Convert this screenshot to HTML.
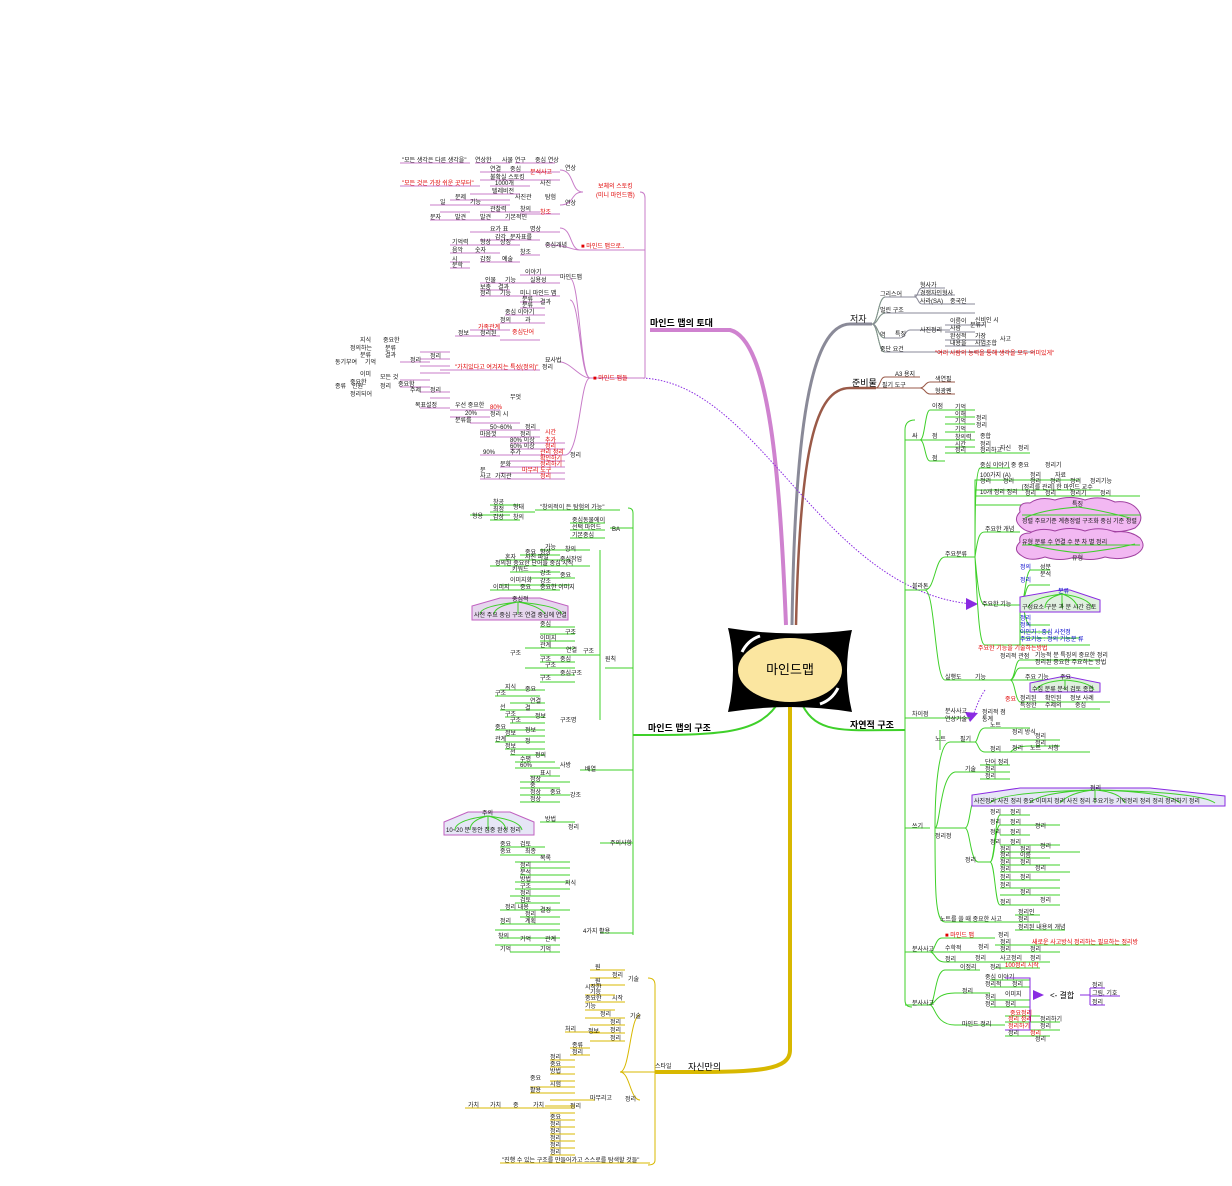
<!DOCTYPE html>
<html><head><meta charset="utf-8">
<style>
html,body{margin:0;padding:0;background:#fff;}
svg{display:block;font-family:"Liberation Sans","Noto Sans CJK KR",sans-serif;}
.t{font-size:6px;fill:#111;}
.r{font-size:6px;fill:#e00000;}
.b{font-size:6px;fill:#0000cc;}
.m{font-size:9px;fill:#000;font-weight:bold;}
.g path{fill:none;stroke:#3fd02a;stroke-width:1;}
.p path{fill:none;stroke:#c87cc8;stroke-width:1;}
.y path{fill:none;stroke:#d8b800;stroke-width:1;}
</style></head><body>
<svg width="1232" height="1186" viewBox="0 0 1232 1186" xmlns="http://www.w3.org/2000/svg">
<!-- main branches -->
<path d="M786 625 C780 480 770 340 730 330 L650 330" stroke="#cf82cf" stroke-width="4" fill="none"/>
<path d="M792 625 C795 430 810 325 850 324 L872 324" stroke="#8a8a98" stroke-width="3" fill="none"/>
<path d="M796 625 C800 450 815 388 850 388 L876 388" stroke="#9a5a48" stroke-width="2.5" fill="none"/>
<path d="M800 700 C815 735 840 730 905 730" stroke="#3fd02a" stroke-width="2" fill="none"/>
<path d="M780 700 C760 735 720 735 633 735" stroke="#3fd02a" stroke-width="2" fill="none"/>
<path d="M790 700 L790 1050 C790 1070 760 1072 690 1072 L655 1072" stroke="#d8b800" stroke-width="4" fill="none"/>
<path d="M640 378 C760 380 820 590 972 604" stroke="#8a2be2" stroke-width="1" stroke-dasharray="1.5 1.5" fill="none"/>
<path d="M966 598 L978 604 L966 610 Z" fill="#8a2be2"/>
<path d="M985 690 C975 705 975 715 970 720" stroke="#8a2be2" stroke-width="1" stroke-dasharray="1.5 1.5" fill="none"/>
<path d="M965 712 L970 722 L978 713 Z" fill="#8a2be2"/>
<!-- central node -->
<path d="M728 628 Q790 638 852 630 Q842 670 852 712 Q790 702 728 712 Q738 670 728 628 Z" fill="#000"/>
<ellipse cx="790" cy="670" rx="52" ry="32" fill="#fbe6a0"/>
<path d="M742 652 Q748 640 760 636" stroke="#fff" stroke-width="3" fill="none"/>
<path d="M838 688 Q832 700 820 704" stroke="#fff" stroke-width="3" fill="none"/>
<text x="790" y="674" text-anchor="middle" font-size="13" fill="#000">마인드맵</text>
<text class="m" x="650" y="326">마인드 맵의 토대</text>
<text class="t" x="850" y="322" style="font-size:9px">저자</text>
<text class="m" x="852" y="386" style="font-weight:normal">준비물</text>
<text class="m" x="850" y="728">자연적 구조</text>
<text class="m" x="648" y="731">마인드 맵의 구조</text>
<text x="688" y="1070" font-size="9" fill="#000">자신만의</text>

<!-- PINK cluster -->
<g class="p">
<path d="M645 378 V198 Q645 192 640 192 M645 250 H580 M645 378 H590 M583 192 C570 192 575 170 560 170 M583 192 C570 192 575 205 560 205 M580 250 C570 250 572 228 560 228 M580 250 C570 250 570 245 545 245 M590 378 C580 378 580 280 570 278 M590 378 C580 378 580 300 570 300 M590 378 C580 378 570 362 560 362 M590 378 C580 378 580 455 565 455"/>
<path d="M400 163 H470 M475 163 H510 M515 163 H555 M480 172 H560 M480 180 H560 M400 186 H480 M490 186 H530 M470 194 H520 M450 200 H510 M430 205 H470 M470 205 H510 M440 212 H470 M480 212 H540 M470 220 H510 M450 220 H470 M520 214 H560 M430 220 H450"/>
<path d="M470 232 H520 M520 232 H560 M480 240 H540 M450 245 H480 M480 245 H520 M450 253 H470 M470 253 H500 M450 262 H470 M480 262 H500 M520 255 H540 M500 262 H520 M450 268 H470"/>
<path d="M520 275 H560 M480 283 H520 M520 283 H560 M480 290 H510 M480 296 H510 M510 296 H560 M520 302 H545 M520 308 H545 M505 315 H545 M500 323 H545 M470 330 H510 M455 336 H500 M500 340 H540 M420 352 H450 M420 359 H450 M420 366 H450 M420 373 H450 M440 370 H540 M400 362 H430 M400 380 H430 M400 387 H430 M420 392 H450 M430 398 H450 M420 408 H450 M450 410 H500 M450 417 H490 M470 423 H520"/>
<path d="M480 430 H540 M480 437 H540 M510 443 H565 M510 449 H565 M480 455 H565 M510 461 H565 M500 467 H565 M500 473 H565 M480 479 H565"/>
</g>
<text class="r" x="598" y="188">보체의 스토킹</text>
<text class="r" x="596" y="197">(미니 마인드맵)</text>
<text class="r" x="581" y="248">■ 마인드 맵으로..</text>
<text class="r" x="593" y="380">■ 마인드 맵들</text>
<text class="t" x="402" y="162">"모든 생각은 다른 생각을"</text><text class="t" x="475" y="162">연상한</text><text class="t" x="502" y="162">사물 연구</text><text class="t" x="535" y="162">중심 연상</text><text class="t" x="565" y="170">연상</text>
<text class="t" x="490" y="171">연결</text><text class="t" x="510" y="171">중심</text><text class="r" x="530" y="174">분석사고</text><text class="t" x="490" y="179">불확실 스토킹</text>
<text class="r" x="402" y="185">"모든 것은 가장 쉬운 곳부터"</text><text class="t" x="495" y="185">1000개</text><text class="t" x="540" y="185">사진</text>
<text class="t" x="492" y="193">텔레비전</text><text class="t" x="455" y="199">문제</text><text class="t" x="470" y="204">기능</text><text class="t" x="515" y="199">사진관</text><text class="t" x="545" y="199">탐험</text><text class="t" x="565" y="205">연상</text><text class="t" x="440" y="204">일</text>
<text class="t" x="490" y="211">관찰력</text><text class="t" x="520" y="211">창의</text><text class="r" x="540" y="214">창조</text><text class="t" x="430" y="219">문자</text><text class="t" x="455" y="219">발견</text><text class="t" x="480" y="219">발견</text><text class="t" x="505" y="219">기본적인</text>
<text class="t" x="490" y="231">요가 표</text><text class="t" x="530" y="231">명상</text><text class="t" x="495" y="239">감각</text><text class="t" x="510" y="239">문자표를</text><text class="t" x="545" y="247">중심개념</text>
<text class="t" x="452" y="244">기억력</text><text class="t" x="480" y="244">형상</text><text class="t" x="500" y="244">상징</text><text class="t" x="452" y="252">음악</text><text class="t" x="475" y="252">숫자</text><text class="t" x="452" y="261">시</text><text class="t" x="480" y="261">감정</text><text class="t" x="520" y="254">창조</text><text class="t" x="502" y="261">예술</text><text class="t" x="452" y="267">문학</text>
<text class="t" x="525" y="274">이야기</text><text class="t" x="560" y="279">마인드맵</text><text class="t" x="485" y="282">인물</text><text class="t" x="505" y="282">기능</text><text class="t" x="530" y="282">실용성</text>
<text class="t" x="480" y="289">보충</text><text class="t" x="498" y="289">결과</text><text class="t" x="480" y="295">정리</text><text class="t" x="500" y="295">기능</text><text class="t" x="520" y="295">미니 마인드 맵</text>
<text class="t" x="522" y="301">분류</text><text class="t" x="540" y="304">결과</text><text class="t" x="522" y="307">분류</text><text class="t" x="505" y="314">중심 이야기</text><text class="t" x="500" y="322">정의</text><text class="t" x="525" y="322">과</text>
<text class="r" x="478" y="329">가족관계</text><text class="r" x="512" y="334">중심단어</text><text class="t" x="458" y="335">정보</text><text class="t" x="480" y="335">정리된</text>
<text class="t" x="545" y="362">묘사법</text><text class="t" x="360" y="342">지식</text><text class="t" x="383" y="342">중요한</text><text class="t" x="350" y="350">정의하는</text><text class="t" x="385" y="350">분류</text><text class="t" x="360" y="357">분류</text><text class="t" x="385" y="357">결과</text><text class="t" x="335" y="364">동기부여</text><text class="t" x="365" y="364">기억</text><text class="t" x="410" y="362">정리</text><text class="t" x="430" y="358">정리</text>
<text class="r" x="455" y="369">"가치있다고 여겨지는 특성(정의)"</text><text class="t" x="542" y="369">정리</text>
<text class="t" x="360" y="376">이미</text><text class="t" x="350" y="384">중요한</text><text class="t" x="380" y="379">모든 것</text><text class="t" x="335" y="388">종류</text><text class="t" x="352" y="388">인원</text><text class="t" x="380" y="388">정리</text><text class="t" x="398" y="386">중요함</text><text class="t" x="410" y="392">주제</text><text class="t" x="350" y="396">정리되어</text><text class="t" x="430" y="392">정리</text>
<text class="t" x="415" y="407">목표설정</text><text class="t" x="455" y="407">우선 중요한</text><text class="r" x="490" y="409">80%</text><text class="t" x="465" y="415">20%</text><text class="t" x="490" y="416">정리 시</text><text class="t" x="455" y="422">분류를</text><text class="t" x="510" y="399">무엇</text>
<text class="t" x="490" y="429">50~60%</text><text class="t" x="525" y="429">정리</text><text class="t" x="480" y="436">마음껏</text><text class="t" x="520" y="436">정리</text><text class="r" x="545" y="434">시간</text><text class="t" x="510" y="442">80% 이상</text><text class="r" x="545" y="442">추가</text><text class="t" x="510" y="448">60% 이상</text><text class="r" x="545" y="448">정리</text><text class="t" x="483" y="454">90%</text><text class="t" x="510" y="454">추가</text><text class="r" x="540" y="454">관리 정리</text><text class="r" x="540" y="460">확인하기</text><text class="t" x="570" y="457">정리</text><text class="r" x="540" y="466">정리하기</text><text class="t" x="500" y="466">문화</text><text class="r" x="522" y="472">마무리 도구</text><text class="t" x="480" y="472">문</text><text class="t" x="495" y="478">가치관</text><text class="r" x="540" y="478">정리</text><text class="t" x="480" y="478">사고</text>

<!-- LEFT GREEN cluster -->
<g class="g">
<path d="M633 735 V513 Q633 508 628 508 M633 735 V935 M633 528 H610 M633 668 H605 M633 770 H580 M633 843 H600 M633 933 H600"/>
<path d="M470 515 H510 M490 505 H520 M490 512 H515 M490 520 H520 M510 512 H535 M535 510 H620 M570 523 H605 M570 530 H605 M570 538 H605 M540 550 H590 M520 555 H560 M500 560 H570 M490 566 H590 M510 572 H560 M530 578 H575 M500 585 H570 M490 590 H560 M600 550 V720 M600 655 H570 M540 627 H575 M540 634 H575 M540 641 H575 M525 648 H575 M540 655 H575 M540 662 H575 M525 668 H575 M540 675 H575 M540 682 H575 M500 690 H545 M495 696 H540 M510 703 H545 M500 710 H545 M505 717 H545 M510 723 H545 M495 730 H545 M505 736 H545 M495 742 H545 M505 749 H545 M510 755 H545 M515 762 H555 M515 768 H560 M530 776 H560 M520 782 H570 M520 788 H560 M520 795 H570 M520 802 H560 M540 822 H575 M500 847 H545 M500 855 H545 M515 862 H570 M520 868 H570 M520 875 H570 M515 882 H570 M515 889 H570 M510 896 H560 M515 903 H560 M500 910 H570 M520 917 H560 M500 924 H560 M495 930 H560 M500 938 H560 M495 945 H560 M510 952 H560"/>
</g>
<text class="t" x="493" y="504">창공</text><text class="t" x="493" y="511">최정</text><text class="t" x="493" y="519">감상</text><text class="t" x="513" y="509">형태</text><text class="t" x="513" y="519">창의</text><text class="t" x="472" y="518">형용</text><text class="t" x="540" y="509">"창의적이 든 탐험의 가능"</text>
<text class="t" x="572" y="522">중심동물에이</text><text class="t" x="572" y="529">선택 마인드</text><text class="t" x="572" y="537">기본중심</text><text class="t" x="612" y="531">BA</text>
<text class="t" x="545" y="549">가능</text><text class="t" x="525" y="554">중요</text><text class="t" x="540" y="554">향상</text><text class="t" x="565" y="551">창의</text><text class="t" x="505" y="559">혼자</text><text class="t" x="525" y="559">사진 파일</text><text class="t" x="560" y="561">중심작업</text><text class="t" x="495" y="565">정의된 중요한 단어들 중심 시작</text><text class="t" x="512" y="571">키워드</text><text class="t" x="540" y="575">강조</text><text class="t" x="560" y="577">중요</text><text class="t" x="510" y="582">이미지화</text><text class="t" x="540" y="583">강조</text><text class="t" x="493" y="589">이미지</text><text class="t" x="520" y="589">중요</text><text class="t" x="540" y="589">중요한 이미지</text>
<path d="M472 618 V606 L500 598 H540 L568 606 V620 H472 Z" fill="#e6d6ee" stroke="#c060c0" stroke-width="1"/>
<path d="M518 602 Q480 606 480 614 M518 602 Q495 606 494 614 M518 602 V614 M518 602 Q540 606 545 614 M518 602 Q560 606 562 614" fill="none" stroke="#3fd02a" stroke-width="1"/>
<text class="t" x="512" y="601">중심적</text><text class="t" x="474" y="617">사전 주요 중심 구조 연결 중심에 연결</text>
<text class="t" x="540" y="626">중심</text><text class="t" x="565" y="634">구조</text><text class="t" x="540" y="640">이미지</text><text class="t" x="540" y="647">관계</text><text class="t" x="566" y="652">연결</text><text class="t" x="510" y="655">구조</text><text class="t" x="540" y="661">구조</text><text class="t" x="560" y="661">중심</text><text class="t" x="545" y="667">구조</text><text class="t" x="560" y="675">중심구조</text><text class="t" x="540" y="680">구조</text><text class="t" x="583" y="653">구조</text><text class="t" x="605" y="661">원칙</text>
<text class="t" x="505" y="689">지식</text><text class="t" x="525" y="691">중요</text><text class="t" x="495" y="695">구조</text><text class="t" x="530" y="703">연결</text><text class="t" x="500" y="709">선</text><text class="t" x="525" y="710">결</text><text class="t" x="505" y="716">구조</text><text class="t" x="535" y="718">정보</text><text class="t" x="510" y="722">구조</text><text class="t" x="560" y="722">구조명</text><text class="t" x="495" y="729">중요</text><text class="t" x="525" y="732">정보</text><text class="t" x="505" y="735">정보</text><text class="t" x="495" y="741">관계</text><text class="t" x="525" y="743">정</text><text class="t" x="505" y="748">정보</text><text class="t" x="510" y="754">선</text><text class="t" x="535" y="757">정의</text>
<text class="t" x="520" y="761">수평</text><text class="t" x="560" y="767">사방</text><text class="t" x="520" y="767">60%</text><text class="t" x="585" y="771">배열</text><text class="t" x="540" y="775">표시</text><text class="t" x="530" y="781">정상</text><text class="t" x="530" y="787">중</text><text class="t" x="550" y="794">중요</text><text class="t" x="530" y="794">정상</text><text class="t" x="530" y="801">정상</text><text class="t" x="570" y="797">강조</text>
<text class="t" x="545" y="821">방법</text><text class="t" x="568" y="829">정리</text><text class="t" x="610" y="845">주의사항</text>
<path d="M444 835 V822 L468 812 H510 L534 822 V835 Z" fill="#e6e6f6" stroke="#c060c0" stroke-width="1"/>
<path d="M488 816 Q455 820 455 830 M488 816 Q470 820 470 830 M488 816 V830 M488 816 Q505 820 506 830 M488 816 Q520 820 522 830" fill="none" stroke="#3fd02a" stroke-width="1"/>
<text class="t" x="482" y="815">주의</text><text class="t" x="446" y="832">10~20 분 동안 집중 완성 정리</text>
<text class="t" x="500" y="846">중요</text><text class="t" x="520" y="846">검토</text><text class="t" x="500" y="853">중요</text><text class="t" x="525" y="853">최종</text><text class="t" x="540" y="860">목록</text><text class="t" x="520" y="867">정리</text><text class="t" x="520" y="874">분석</text><text class="t" x="520" y="881">방법</text><text class="t" x="520" y="888">구조</text><text class="t" x="520" y="895">정리</text><text class="t" x="520" y="902">검토</text><text class="t" x="565" y="885">지식</text>
<text class="t" x="505" y="909">정리 내용</text><text class="t" x="540" y="912">결정</text><text class="t" x="525" y="916">정리</text><text class="t" x="500" y="923">정리</text><text class="t" x="525" y="923">계획</text><text class="t" x="583" y="933">4가지 활용</text><text class="t" x="498" y="938">창의</text><text class="t" x="520" y="941">기억</text><text class="t" x="545" y="941">관계</text><text class="t" x="500" y="951">기억</text><text class="t" x="540" y="951">기억</text>

<!-- YELLOW cluster -->
<g class="y">
<path d="M655 1072 V985 Q655 978 648 978 M655 1072 V1160 Q655 1165 648 1165 M655 1072 H620 M620 1072 C630 1072 630 1015 640 1015 M620 1072 C630 1072 630 1100 640 1100 M590 970 H625 M590 978 H620 M590 985 H625 M585 995 H615 M585 1002 H625 M585 1010 H615 M585 1018 H625 M590 1025 H625 M590 1033 H625 M590 1041 H625 M565 1032 H600 M570 1048 H590 M570 1055 H590 M550 1060 H575 M550 1067 H575 M550 1074 H575 M550 1081 H575 M530 1087 H575 M530 1093 H575 M550 1100 H595 M545 1106 H575 M465 1108 H575 M550 1113 H575 M550 1120 H575 M550 1127 H575 M550 1134 H575 M550 1141 H575 M550 1148 H575 M550 1155 H575 M500 1163 H650"/>
</g>
<text class="t" x="595" y="969">원</text><text class="t" x="612" y="977">정리</text><text class="t" x="595" y="983">원</text><text class="t" x="628" y="981">기술</text><text class="t" x="585" y="989">시작한</text><text class="t" x="590" y="994">기능</text><text class="t" x="585" y="1000">중요한</text><text class="t" x="612" y="1000">시작</text><text class="t" x="585" y="1008">기능</text><text class="t" x="600" y="1016">정리</text><text class="t" x="630" y="1018">기술</text><text class="t" x="610" y="1024">정리</text><text class="t" x="610" y="1032">정리</text><text class="t" x="565" y="1031">처리</text><text class="t" x="588" y="1033">정보</text><text class="t" x="610" y="1040">정리</text>
<text class="t" x="572" y="1047">종류</text><text class="t" x="572" y="1054">정리</text><text class="t" x="550" y="1059">정리</text><text class="t" x="550" y="1066">중요</text><text class="t" x="550" y="1073">방법</text><text class="t" x="530" y="1080">중요</text><text class="t" x="550" y="1086">시험</text><text class="t" x="530" y="1092">활용</text><text class="t" x="590" y="1100">마무리고</text><text class="t" x="625" y="1101">정리</text><text class="t" x="655" y="1068">스타일</text>
<text class="t" x="468" y="1107">가치</text><text class="t" x="490" y="1107">가치</text><text class="t" x="513" y="1107">중</text><text class="t" x="533" y="1107">가치</text><text class="t" x="570" y="1108">정리</text><text class="t" x="550" y="1119">중요</text><text class="t" x="550" y="1126">정리</text><text class="t" x="550" y="1133">정리</text><text class="t" x="550" y="1140">정리</text><text class="t" x="550" y="1147">정리</text><text class="t" x="550" y="1154">정리</text>
<text class="t" x="502" y="1162">"진행 수 있는 구조를 만들어가고 스스로를 탐색할 것들"</text>

<!-- GRAY/BROWN -->
<g class="g" style="">
<path d="M872 324 C878 324 878 298 885 297 M872 324 C878 324 878 314 885 313 M872 324 C878 324 878 338 885 338 M872 324 C878 324 878 352 885 352" stroke="#8a8a98"/>
</g>
<path d="M872 324 C878 324 878 298 885 297 H915 M872 324 C878 324 878 314 885 313 H915 M872 324 C878 324 878 338 885 338 H900 M872 324 C878 324 878 352 885 352 H935 M915 297 C918 297 918 288 922 288 H945 M915 297 V295 H955 M915 297 C918 297 918 304 922 304 H975 M915 313 H975 M900 338 C905 338 905 330 910 330 H950 M935 352 H1035 M945 325 H985 M945 332 H975 M945 340 H985 M945 346 H990" stroke="#8a8a98" fill="none" stroke-width="1"/>
<text class="t" x="880" y="296">그리스어</text><text class="t" x="920" y="287">형사가</text><text class="t" x="920" y="295">경쟁자인형사</text><text class="t" x="920" y="303">사라(SA)</text><text class="t" x="950" y="303">중국인</text>
<text class="t" x="880" y="312">벌린 구조</text><text class="t" x="880" y="337">역</text><text class="t" x="895" y="336">특징</text><text class="t" x="920" y="332">사진정리</text><text class="t" x="950" y="323">이름이</text><text class="t" x="975" y="322">신비인 시</text><text class="t" x="950" y="330">사람</text><text class="t" x="970" y="327">분류기</text><text class="t" x="950" y="338">완성적</text><text class="t" x="975" y="338">가장</text><text class="t" x="950" y="345">내용을</text><text class="t" x="975" y="345">사업조합</text><text class="t" x="1000" y="341">사고</text>
<text class="t" x="880" y="351">중단 요건</text><text class="r" x="935" y="355">"여러 사람의 능력을 통해 생각을 모두 의미있게"</text>
<path d="M876 388 C880 388 880 377 885 377 H920 M876 388 H920 M920 388 C925 388 925 382 930 382 H955 M920 388 C925 388 925 394 930 394 H955" stroke="#9a5a48" fill="none"/>
<text class="t" x="895" y="376">A3 용지</text><text class="t" x="882" y="387">필기 도구</text><text class="t" x="935" y="381">색연필</text><text class="t" x="935" y="393">형광펜</text>

<!-- RIGHT GREEN cluster -->
<g class="g">
<path d="M905 730 V430 Q905 420 915 420 M905 730 V1000 Q905 1007 912 1007 M905 440 H920 M905 590 H925 M905 718 H935 M905 828 H930 M905 952 H930 M905 1005 H930"/>
<path d="M920 440 C925 440 925 410 930 410 H945 M920 440 H945 M920 440 C925 440 925 461 930 461 H945 M945 410 H975 M945 417 H975 M945 424 H975 M945 432 H975 M945 440 H975 M945 447 H975 M945 453 H975 M960 453 H1030"/>
<path d="M925 590 C935 590 935 557 945 557 H975 M925 590 C935 590 935 680 945 680 H975 M975 557 C975 520 975 470 980 468 H1010 M975 557 V480 H1080 M975 490 H1100 M975 496 H1140 M975 505 H1110 M975 557 C978 535 980 532 985 532 H1020 M975 557 C978 590 980 605 985 605 H1020 M975 557 C978 620 980 645 985 645 H1060 M1020 605 C1025 605 1025 575 1030 570 H1050 M1020 605 C1025 605 1025 585 1030 585 H1050 M1020 605 C1025 605 1025 625 1030 625 H1050 M1020 605 V632 H1050 M1020 605 V638 H1080 M1020 605 V645 H1090 M975 680 H1010 M1010 680 C1015 680 1015 660 1020 660 H1100 M1010 680 C1015 680 1015 668 1020 668 H1100 M1010 680 H1050 M1010 680 C1015 680 1015 700 1020 702 H1110 M1020 709 H1100"/>
<path d="M935 718 H970 M940 730 V750 M935 828 C935 780 940 742 950 742 H975 M975 742 C978 742 978 728 985 728 H1010 M975 742 C978 742 978 752 985 752 H1010 M1010 728 H1030 M1010 740 H1060 M1010 752 C1012 752 1012 746 1030 746 H1060 M1010 752 H1090 M935 828 C940 828 940 775 955 772 H980 M980 765 H1010 M980 772 H1010 M980 779 H1010 M935 828 H965 M965 828 C970 828 970 800 975 800 H1200 M965 828 C970 828 970 860 978 862 H990 M990 862 C995 862 995 815 1000 815 H1030 M990 862 C995 862 995 825 1000 825 H1060 M990 862 C995 862 995 905 1000 905 H1060 M1000 835 H1030 M1000 845 H1060 M1000 852 H1080 M1000 858 H1050 M1000 865 H1060 M1000 872 H1070 M1000 880 H1060 M1000 888 H1060 M1000 895 H1060 M935 828 C935 890 935 922 945 922 H1015 M1015 915 H1040 M1015 922 H1040 M1015 930 H1065"/>
<path d="M930 952 C935 952 935 938 942 938 H995 M930 952 H995 M930 952 C935 952 935 962 945 962 H1000 M995 945 H1040 M995 952 H1060 M1040 945 H1130 M1000 962 H1050 M995 968 H1040 M930 1005 C935 1005 935 970 945 970 H980 M930 1005 C935 1005 935 993 955 993 H990 M930 1005 C935 1005 935 1025 955 1025 H1005 M990 980 H1030 M990 987 H1030 M990 1000 H1030 M990 1007 H1030 M1005 1016 H1040 M1005 1022 H1060 M1005 1030 H1060 M1005 1036 H1050"/>
</g>
<text class="t" x="912" y="438">싸</text><text class="t" x="932" y="408">이점</text><text class="t" x="932" y="438">점</text><text class="t" x="932" y="460">점</text>
<text class="t" x="955" y="409">기억</text><text class="t" x="955" y="416">이해</text><text class="t" x="976" y="420">정리</text><text class="t" x="955" y="423">기억</text><text class="t" x="976" y="427">정리</text><text class="t" x="955" y="431">기억</text><text class="t" x="955" y="439">창의력</text><text class="t" x="980" y="438">종합</text><text class="t" x="955" y="446">시간</text><text class="t" x="980" y="446">정리</text><text class="t" x="955" y="452">정리</text><text class="t" x="980" y="452">정리하고</text><text class="t" x="1000" y="450">자신</text><text class="t" x="1018" y="450">정리</text>
<text class="t" x="980" y="467">중심 이야기 중</text><text class="t" x="1018" y="467">중요</text><text class="t" x="1045" y="467">정리기</text><text class="t" x="980" y="477">100가지 (A)</text><text class="t" x="1030" y="477">정리</text><text class="t" x="1055" y="477">자료</text><text class="t" x="980" y="483">정리</text><text class="t" x="1003" y="483">정리</text><text class="t" x="1030" y="483">정리</text><text class="t" x="1050" y="483">정리</text><text class="t" x="1070" y="483">정리</text><text class="t" x="1090" y="483">정리기능</text><text class="t" x="1022" y="489">[정리를 관리] 한 마인드 교수</text><text class="t" x="980" y="494">10개 정리 정리</text><text class="t" x="1025" y="495">정리</text><text class="t" x="1045" y="495">정리</text><text class="t" x="1070" y="495">정리기</text><text class="t" x="1100" y="495">정리</text>
<text class="t" x="945" y="556">주요분류</text><text class="t" x="912" y="588">블라톤</text><text class="t" x="985" y="531">주요한 개념</text>
<path d="M1020 512 Q1018 502 1030 503 Q1040 496 1055 500 Q1070 495 1085 500 Q1100 495 1115 502 Q1130 500 1138 510 Q1145 520 1135 528 Q1120 534 1105 530 Q1090 536 1075 530 Q1060 536 1045 530 Q1030 535 1022 528 Q1012 520 1020 512 Z" fill="#f2b8f2" stroke="#a040a0"/>
<path d="M1020 542 Q1018 533 1030 533 Q1040 527 1055 531 Q1070 526 1085 531 Q1100 526 1115 532 Q1130 530 1140 538 Q1148 548 1135 555 Q1120 561 1105 557 Q1090 562 1075 557 Q1060 562 1045 557 Q1030 562 1022 556 Q1012 550 1020 542 Z" fill="#f2b8f2" stroke="#a040a0"/>
<path d="M1022 515 H1140 M1078 507 Q1040 510 1025 518 M1078 507 Q1100 510 1130 518 M1022 545 H1140 M1080 553 Q1050 550 1028 544 M1080 553 Q1110 550 1135 544" fill="none" stroke="#3fd02a"/>
<text class="t" x="1072" y="506">특징</text><text class="t" x="1022" y="523">정렬 주요기준 계층정렬 구조화 중심 기준 정렬</text>
<text class="t" x="1022" y="544">유형 분류 수 연결 수 분 차 별 정리</text><text class="t" x="1072" y="560">유형</text>
<text class="b" x="1020" y="569">정의</text><text class="t" x="1040" y="569">성분</text><text class="t" x="1040" y="576">분석</text><text class="b" x="1020" y="582">정리</text>
<path d="M1020 612 V597 L1060 590 H1070 L1100 600 V612 Z" fill="#e0efe0" stroke="#8a2be2"/>
<path d="M1062 594 Q1030 598 1028 608 M1062 594 Q1045 598 1045 608 M1062 594 V608 M1062 594 Q1075 598 1078 608 M1062 594 Q1090 598 1092 608" fill="none" stroke="#3fd02a"/>
<text class="b" x="1058" y="593">분류</text><text class="t" x="1022" y="609">구성요소 구분 과 분 시간 검토</text>
<text class="t" x="982" y="606">주요한 기능</text><text class="b" x="1020" y="620">정리</text><text class="b" x="1020" y="627">정의</text><text class="b" x="1020" y="634">이인기 : 중심 사전정</text><text class="b" x="1020" y="641">주요기능 : 정의 기능분 류</text><text class="r" x="978" y="650">주요한 기능을 기술하는방법</text>
<text class="t" x="945" y="679">실행도</text><text class="t" x="975" y="679">기능</text><text class="t" x="1000" y="658">정리적 관점</text><text class="t" x="1035" y="657">기능적 분 특징의 중요한 정리</text><text class="t" x="1035" y="664">정리된 중요한 주요하는 방법</text><text class="t" x="1025" y="679">주요 기능</text>
<path d="M1030 692 V683 L1065 676 L1100 683 V692 Z" fill="#e0efe0" stroke="#8a2be2"/>
<path d="M1065 680 Q1040 682 1036 690 M1065 680 V690 M1065 680 Q1090 682 1094 690" fill="none" stroke="#3fd02a"/>
<text class="t" x="1060" y="679">주요</text><text class="t" x="1032" y="691">수집 분류 분석 검토 종합</text>
<text class="r" x="1005" y="701">중요</text><text class="t" x="1020" y="700">정리된</text><text class="t" x="1045" y="700">확인된</text><text class="t" x="1070" y="700">정보 사례</text><text class="t" x="1020" y="707">특정한</text><text class="t" x="1045" y="707">주제의</text><text class="t" x="1075" y="707">중심</text>
<text class="t" x="912" y="716">차이점</text><text class="t" x="945" y="713">분사사고</text><text class="t" x="945" y="721">연상기술</text><text class="t" x="982" y="714">정리적 점</text><text class="t" x="982" y="721">통계</text>
<text class="t" x="935" y="741">노트</text><text class="t" x="960" y="741">필기</text><text class="t" x="990" y="727">노트</text><text class="t" x="1012" y="734">정리 방식</text><text class="t" x="1035" y="738">정리</text><text class="t" x="1035" y="745">정리</text><text class="t" x="990" y="751">정리</text><text class="t" x="1012" y="750">정리</text><text class="t" x="1030" y="750">노트</text><text class="t" x="1048" y="750">사항</text>
<text class="t" x="965" y="771">기술</text><text class="t" x="985" y="764">단어 정리</text><text class="t" x="985" y="771">정리</text><text class="t" x="985" y="778">정리</text>
<path d="M972 806 V795 L1020 788 H1150 L1225 796 V806 Z" fill="#e6e6f6" stroke="#8a2be2"/>
<path d="M1095 790 Q1000 792 990 803 M1095 790 Q1040 792 1030 803 M1095 790 Q1070 792 1060 803 M1095 790 V803 M1095 790 Q1120 792 1125 803 M1095 790 Q1170 792 1180 803 M1095 790 Q1200 792 1215 803" fill="none" stroke="#3fd02a"/>
<text class="t" x="1090" y="790">정리</text><text class="t" x="974" y="803">사진정리 사진 정리 중요 이미지 정리 사진 정리 주요기능 기억정리 정리 정리 정리하기 정리</text>
<text class="t" x="912" y="828">쓰기</text><text class="t" x="935" y="838">정리정</text><text class="t" x="965" y="862">정리</text>
<text class="t" x="990" y="814">정리</text><text class="t" x="1010" y="814">정리</text><text class="t" x="990" y="824">정리</text><text class="t" x="1010" y="824">정리</text><text class="t" x="1035" y="828">정리</text><text class="t" x="990" y="834">정리</text><text class="t" x="1010" y="834">정리</text><text class="t" x="990" y="844">정리</text><text class="t" x="1010" y="844">정리</text><text class="t" x="1040" y="848">정리</text><text class="t" x="1000" y="851">정리</text><text class="t" x="1020" y="851">정리</text><text class="t" x="1000" y="857">정리</text><text class="t" x="1020" y="857">이름</text><text class="t" x="1000" y="864">정리</text><text class="t" x="1020" y="864">정리</text><text class="t" x="1035" y="870">정리</text><text class="t" x="1000" y="871">정리</text><text class="t" x="1000" y="879">정리</text><text class="t" x="1020" y="879">정리</text><text class="t" x="1000" y="887">정리</text><text class="t" x="1020" y="894">정리</text><text class="t" x="1040" y="902">정리</text><text class="t" x="1000" y="904">정리</text>
<text class="t" x="940" y="921">노트를 쓸 때 중요한 사고</text><text class="t" x="1018" y="914">정리인</text><text class="t" x="1018" y="921">정리</text><text class="t" x="1018" y="929">정리된 내용의 개념</text>
<text class="r" x="945" y="937">■ 마인드 맵</text><text class="t" x="998" y="937">정리</text><text class="t" x="912" y="951">분사사고</text><text class="t" x="945" y="950">수학적</text><text class="t" x="978" y="949">정리</text><text class="t" x="1000" y="944">정리</text><text class="r" x="1032" y="944">새로운 사고방식 정리하는 필요하는 정리방</text><text class="t" x="1000" y="951">정리</text><text class="t" x="1030" y="951">정리</text><text class="t" x="945" y="961">정리</text><text class="t" x="975" y="960">정리</text><text class="t" x="1000" y="960">사고정리</text><text class="t" x="1030" y="960">정리</text><text class="r" x="1005" y="967">100정리 시작</text>
<text class="t" x="960" y="969">이정리</text><text class="t" x="990" y="969">정리</text><text class="t" x="985" y="979">중심 이야기</text><text class="t" x="985" y="986">정리적</text><text class="t" x="1012" y="986">정리</text><text class="t" x="962" y="993">정리</text><text class="t" x="985" y="999">정리</text><text class="t" x="1005" y="996">이미지</text><text class="t" x="985" y="1006">정리</text><text class="t" x="1005" y="1006">정리</text>
<text class="t" x="912" y="1005">분사사고</text>
<path d="M1005 978 H1030 V1030 H1005" fill="none" stroke="#8a2be2"/>
<path d="M1033 990 L1044 995 L1033 1000 Z" fill="#8a2be2"/>
<text x="1050" y="998" font-size="8" fill="#000">&lt;- 결합</text>
<path d="M1080 995 H1090 M1090 988 V1005 M1090 988 H1105 M1090 996 H1120 M1090 1005 H1105" fill="none" stroke="#8a2be2"/>
<text class="t" x="1092" y="987">정리</text><text class="t" x="1092" y="995">그림, 기호</text><text class="t" x="1092" y="1004">정리</text>
<text class="t" x="962" y="1026">마인드 정리</text><text class="r" x="1010" y="1015">중요정리</text><text class="r" x="1008" y="1021">정리 정리</text><text class="t" x="1040" y="1021">정리하기</text><text class="r" x="1008" y="1028">정리하기</text><text class="t" x="1040" y="1028">정리</text><text class="t" x="1008" y="1035">정리</text><text class="r" x="1030" y="1035">정리</text><text class="t" x="1035" y="1041">정리</text>
</svg>
</body></html>
